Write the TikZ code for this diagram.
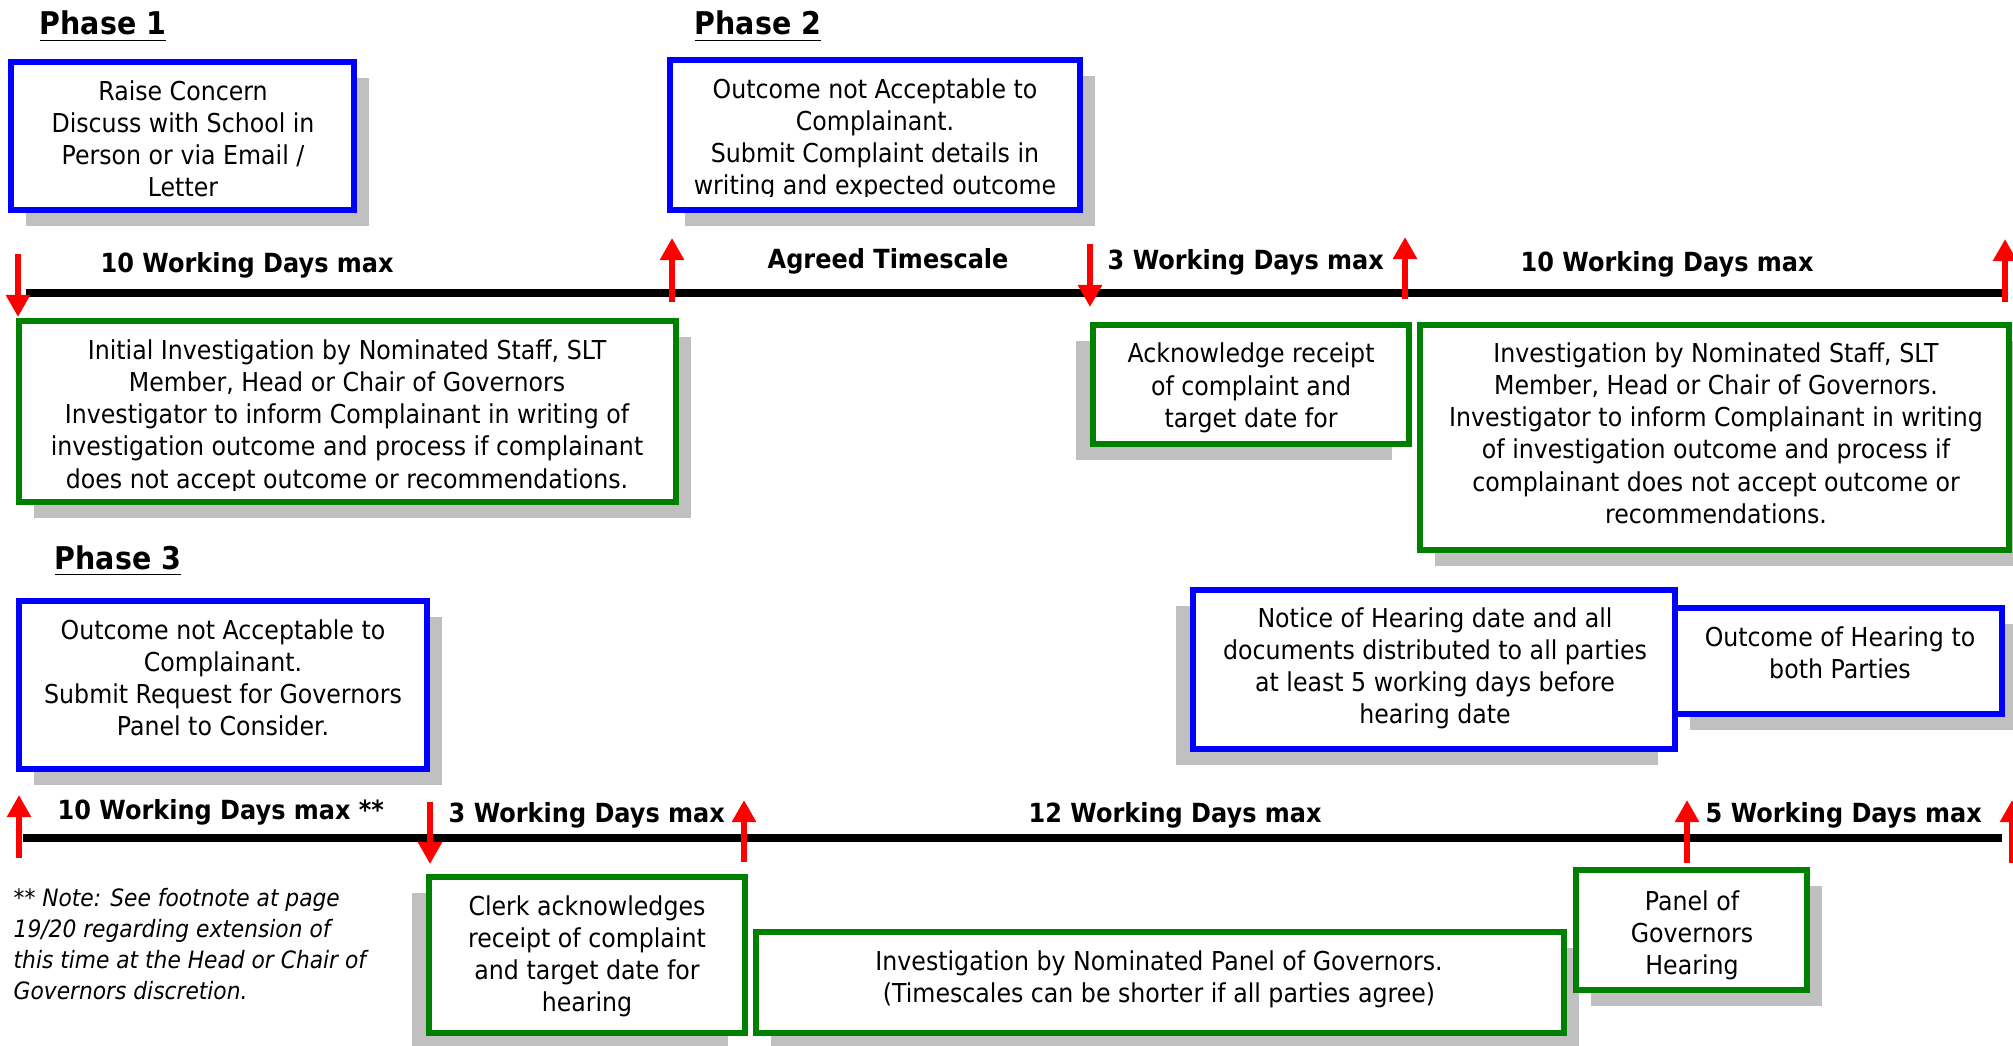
\documentclass[tikz,border=0pt]{standalone}
\usepackage{xcolor}
\usepackage{fontspec}
\setmainfont{DejaVu Sans}[FakeStretch=0.91]
\usepackage{tikz}
\usetikzlibrary{arrows.meta,positioning,fit,shadows}

\definecolor{boxblue}{RGB}{0,0,255}
\definecolor{boxgreen}{RGB}{0,128,0}
\definecolor{flagred}{RGB}{255,0,0}
\definecolor{shade}{RGB}{192,192,192}

\begin{document}
\begin{tikzpicture}[x=0.01cm,y=-0.01cm,>={Triangle[width=0.23cm,length=0.22cm]},
  stage/.style={line width=1.56pt,fill=white,inner sep=0pt},
  bluebox/.style={stage,draw=boxblue},
  greenbox/.style={stage,draw=boxgreen},
  shadowrd/.style={drop shadow={shadow xshift=0.15cm,shadow yshift=-0.16cm,fill=shade,opacity=1}},
  shadowld/.style={drop shadow={shadow xshift=-0.17cm,shadow yshift=-0.155cm,fill=shade,opacity=1}},
  txt/.style={anchor=base,align=center,inner sep=0pt,font=\fontsize{7.4pt}{9.1pt}\selectfont},
  note/.style={anchor=base west,align=left,inner sep=0pt,font=\fontsize{6.8pt}{8.8pt}\selectfont\itshape},
  spanlabel/.style={anchor=base west,inner sep=0pt,font=\fontsize{7.5pt}{9pt}\selectfont\bfseries},
  phase/.style={anchor=base west,inner sep=0pt,font=\fontsize{8.9pt}{10pt}\selectfont\bfseries},
  timeline/.style={line width=2.3pt},
  flag/.style={->,draw=flagred,line width=1.7pt}]
  \useasboundingbox (0,0) rectangle (2013,1046);
  % text nodes sit on the baseline of their last line

  % Phase 1
  \node[phase] (ph1) at (39,35) {\underline{Phase 1}};
  \node[bluebox,shadowrd,fit={(11,62) (354,210)}] (raise) {};
  \node[txt] (raise-t) at (183,197) {Raise Concern\\Discuss with School in\\Person or via Email /\\Letter};
  \node[greenbox,shadowrd,fit={(19,321) (676,502)}] (initial) {};
  \begin{scope}
    \clip (19,321) rectangle (676,490);
    \node[txt] (initial-t) at (347,488) {Initial Investigation by Nominated Staff, SLT\\Member, Head or Chair of Governors\\Investigator to inform Complainant in writing of\\investigation outcome and process if complainant\\does not accept outcome or recommendations.};
  \end{scope}

  % Phase 2
  \node[phase] (ph2) at (694,35) {\underline{Phase 2}};
  \node[bluebox,shadowrd,fit={(670,60) (1080,210)}] (submit) {};
  \begin{scope}
    \clip (670,60) rectangle (1080,197);
    \node[txt] (submit-t) at (875,195) {Outcome not Acceptable to\\Complainant.\\Submit Complaint details in\\writing and expected outcome};
  \end{scope}
  \node[greenbox,shadowld,fit={(1093,325) (1409,444)}] (ack) {};
  \node[txt] (ack-t) at (1251,427) {Acknowledge receipt\\of complaint and\\target date for};
  \node[greenbox,shadowrd,fit={(1420,325) (2009,550)}] (inv) {};
  \node[txt] (inv-t) at (1716,523) {Investigation by Nominated Staff, SLT\\Member, Head or Chair of Governors.\\Investigator to inform Complainant in writing\\of investigation outcome and process if\\complainant does not accept outcome or\\recommendations.};

  % first time line
  \coordinate (t1a) at (26,293);
  \coordinate (t1b) at (2003,293);
  \draw[timeline] (t1a) -- (t1b);
  \node[spanlabel] (s1) at (100,273) {10 Working Days max};
  \node[spanlabel] (s2) at (767,269) {Agreed Timescale};
  \node[spanlabel] (s3) at (1107,270) {3 Working Days max};
  \node[spanlabel] (s4) at (1520,272) {10 Working Days max};
  \foreach \n/\x/\ya/\yb in {1/18/254/317, 2/672/302/238, 3/1090/244/307, 4/1405/299/237, 5/2005/302/239} {
    \coordinate (f\n-s) at (\x,\ya);
    \coordinate (f\n-e) at (\x,\yb);
    \draw[flag] (f\n-s) -- (f\n-e);
  }

  % Phase 3
  \node[phase] (ph3) at (54,569) {\underline{Phase 3}};
  \node[bluebox,shadowrd,fit={(19,601) (427,769)}] (request) {};
  \node[txt] (request-t) at (223,735) {Outcome not Acceptable to\\Complainant.\\Submit Request for Governors\\Panel to Consider.};
  \node[bluebox,shadowld,fit={(1193,590) (1675,749)}] (notice) {};
  \node[txt] (notice-t) at (1435,723) {Notice of Hearing date and all\\documents distributed to all parties\\at least 5 working days before\\hearing date};
  \node[bluebox,shadowrd,fit={(1675,608) (2002,714)}] (result) {};
  \node[txt] (result-t) at (1840,678) {Outcome of Hearing to\\both Parties};

  % second time line
  \coordinate (t2a) at (23,838);
  \coordinate (t2b) at (2002,838);
  \draw[timeline] (t2a) -- (t2b);
  \node[spanlabel] (r1) at (57,819) {10 Working Days max **};
  \node[spanlabel] (r2) at (448,822) {3 Working Days max};
  \node[spanlabel] (r3) at (1028,822) {12 Working Days max};
  \node[spanlabel] (r4) at (1705,822) {5 Working Days max};
  \foreach \n/\x/\ya/\yb in {1/19/858/795, 2/430/802/864, 3/744/862/800, 4/1687/863/800, 5/2012/863/800} {
    \coordinate (g\n-s) at (\x,\ya);
    \coordinate (g\n-e) at (\x,\yb);
    \draw[flag] (g\n-s) -- (g\n-e);
  }

  \node[note] (footnote) at (13,999) {** Note: See footnote at page\\19/20 regarding extension of\\this time at the Head or Chair of\\Governors discretion.};
  \node[greenbox,shadowld,fit={(429,877) (745,1033)}] (clerk) {};
  \node[txt] (clerk-t) at (587,1011) {Clerk acknowledges\\receipt of complaint\\and target date for\\hearing};
  \node[greenbox,shadowrd,fit={(756,932) (1564,1033)}] (panel) {};
  \node[txt] (panel-t) at (1159,1002) {Investigation by Nominated Panel of Governors.\\(Timescales can be shorter if all parties agree)};
  \node[greenbox,shadowrd,fit={(1576,870) (1807,990)}] (hearing) {};
  \node[txt] (hearing-t) at (1692,974) {Panel of\\Governors\\Hearing};
\end{tikzpicture}
\end{document}
